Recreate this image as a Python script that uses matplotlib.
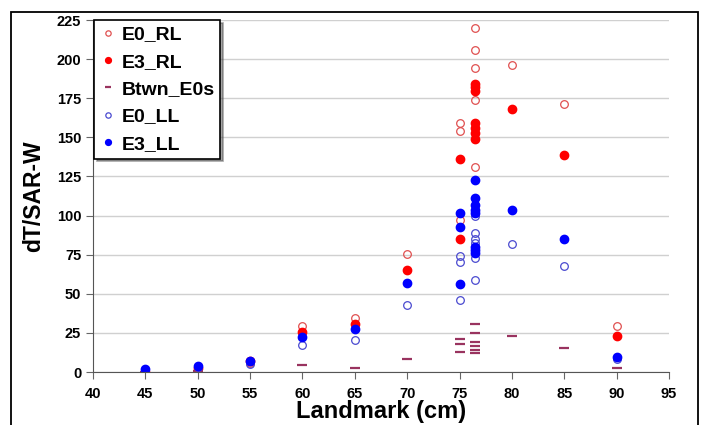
import matplotlib
matplotlib.use("Agg")
import matplotlib.pyplot as plt
from matplotlib.patches import Rectangle

plt.rcParams["font.family"] = ["Liberation Sans", "DejaVu Sans"]
plt.rcParams["font.weight"] = "bold"

# data
e0_rl_x = [45, 50, 55, 60, 65, 70, 75, 75, 75, 76.5, 76.5, 76.5, 76.5, 76.5, 80, 85, 90]
e0_rl_y = [1.0, 2.5, 6.0, 29.2, 34.6, 75.4, 159, 154, 97, 220, 206, 194, 174, 131, 196, 171, 29.2]

e3_rl_x = [45, 50, 55, 60, 65, 70, 75, 75, 76.5, 76.5, 76.5, 76.5, 76.5, 76.5, 76.5, 80, 85, 90]
e3_rl_y = [0.3, 2.5, 7.0, 25.4, 31.0, 65.0, 136, 84.8, 184, 182, 179.5, 159, 156, 153, 149, 168, 139, 22.8]

btwn_x = [45, 50, 60, 65, 70, 75, 75, 75, 76.5, 76.5, 76.5, 76.5, 76.5, 76.5, 80, 85, 90]
btwn_y = [0.0, 0.5, 4.2, 2.3, 8.1, 21.3, 17.9, 12.8, 31.0, 25.0, 19.0, 16.4, 14.3, 12.2, 22.8, 15.1, 2.8]

e0_ll_x = [45, 50, 55, 60, 65, 70, 75, 75, 75, 76.5, 76.5, 76.5, 76.5, 76.5, 76.5, 80, 85, 90]
e0_ll_y = [1.5, 3.0, 4.8, 17.5, 20.7, 43.0, 74.0, 70.0, 46.0, 99.4, 88.7, 85.3, 82.2, 73.0, 59.0, 82.0, 68.0, 8.0]

e3_ll_x = [45, 50, 55, 60, 65, 70, 75, 75, 75, 76.5, 76.5, 76.5, 76.5, 76.5, 76.5, 76.5, 76.5, 80, 85, 90]
e3_ll_y = [1.9, 3.6, 7.3, 22.4, 27.8, 57.2, 101.5, 93.0, 56.2, 122.5, 111.5, 107.0, 103.6, 101.5, 80.0, 78.0, 75.8, 103.6, 84.8, 9.4]

x_ticks = [40, 45, 50, 55, 60, 65, 70, 75, 80, 85, 90, 95]
y_ticks = [0, 25, 50, 75, 100, 125, 150, 175, 200, 225]

fig = plt.figure(figsize=(7.01, 4.25), dpi=100)
ax = fig.add_axes([93 / 701, 1 - 372 / 425, 576 / 701, 352 / 425])

ax.plot(e0_rl_x, e0_rl_y, "o", ls="none", ms=5.5, mfc="none", mec="#e05050", mew=0.9, label="E0_RL")
ax.plot(e3_rl_x, e3_rl_y, "o", ls="none", ms=6, mfc="#ff0000", mec="#ff0000", label="E3_RL")
ax.plot(btwn_x, btwn_y, "_", ls="none", ms=7, mec="#99335f", mew=1.6, label="Btwn_E0s")
ax.plot(e0_ll_x, e0_ll_y, "o", ls="none", ms=5.5, mfc="none", mec="#4a4ad0", mew=0.9, label="E0_LL")
ax.plot(e3_ll_x, e3_ll_y, "o", ls="none", ms=6, mfc="#0000ff", mec="#0000ff", label="E3_LL")

ax.set_xlim(40, 95)
ax.set_ylim(0, 225)
ax.set_xticks(x_ticks)
ax.set_yticks(y_ticks)
ax.tick_params(direction="out", length=5, color="#666666", labelsize=10.5)
ax.tick_params(axis="x", pad=6)
ax.yaxis.grid(True, color="#d0d0d0", lw=1)
ax.set_axisbelow(True)
for side in ["top", "right"]:
    ax.spines[side].set_visible(False)
for side in ["left", "bottom"]:
    ax.spines[side].set_color("#555555")

ax.set_xlabel("Landmark (cm)", fontsize=17, fontweight="bold", labelpad=-1)
ax.set_ylabel("dT/SAR-W", fontsize=16.5, fontweight="bold", labelpad=8)

leg = ax.legend(loc="upper left", bbox_to_anchor=(0.002, 1.0), borderaxespad=0,
                fontsize=14, frameon=True, fancybox=False, shadow=True,
                handlelength=0.8, handletextpad=0.3, labelspacing=0.5,
                markerscale=0.7, borderpad=0.3)
leg.get_frame().set_edgecolor("black")
leg.get_frame().set_linewidth(1.2)

# outer frame around the picture
fig.patches.append(Rectangle((11 / 701, -0.05), 687 / 701, 1.05 - 12 / 425,
                             transform=fig.transFigure, fill=False,
                             edgecolor="black", lw=1.3))

fig.savefig("out.png", dpi=100)
